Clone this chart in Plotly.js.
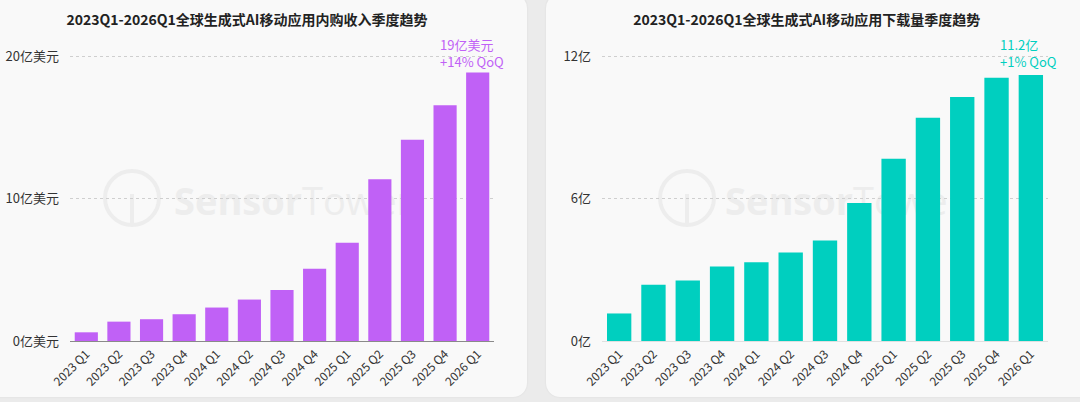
<!DOCTYPE html>
<html>
<head>
<meta charset="utf-8">
<script src="https://cdn.plot.ly/plotly-3.0.1.min.js"></script>
<style>
  html, body { margin:0; padding:0; width:1080px; height:402px; overflow:hidden; background:#ebebeb; }
  .card { position:absolute; background:#f9f9f9; border-radius:14px; box-shadow:0 0 2px rgba(0,0,0,0.08); }
  .plot { position:absolute; top:0; width:540px; height:402px; }
  .wm { position:absolute; font-family:'Open Sans','Noto Sans',sans-serif; font-size:38px; color:#ededed; line-height:1; white-space:nowrap; transform:translateY(-50%); }
  .wm b { font-weight:700; }
</style>
</head>
<body>
<div class="card" style="left:-14px; top:-6px; width:541px; height:403px;"></div>
<div class="card" style="left:546px; top:-6px; width:550px; height:403px;"></div>
<div class="wm" style="left:174px; top:200px;"><b>Sensor</b>Tower</div>
<div class="wm" style="left:725px; top:200px;"><b>Sensor</b>Tower</div>
<div id="left" class="plot" style="left:0px;"></div>
<div id="right" class="plot" style="left:540px;"></div>
<script>
const quarters = ["2023 Q1","2023 Q2","2023 Q3","2023 Q4","2024 Q1","2024 Q2","2024 Q3","2024 Q4","2025 Q1","2025 Q2","2025 Q3","2025 Q4","2026 Q1"];
const revenue = [0.61, 1.36, 1.53, 1.88, 2.35, 2.91, 3.59, 5.07, 6.90, 11.36, 14.13, 16.55, 18.85];
const downloads = [1.16, 2.37, 2.55, 3.14, 3.32, 3.73, 4.24, 5.82, 7.68, 9.41, 10.28, 11.09, 11.21];
const revTicks = [0, 10, 20];
const revTickText = ["0亿美元", "10亿美元", "20亿美元"];
const dlTicks = [0, 6, 12];
const dlTickText = ["0亿", "6亿", "12亿"];
const revTitle = "2023Q1-2026Q1全球生成式AI移动应用内购收入季度趋势";
const dlTitle = "2023Q1-2026Q1全球生成式AI移动应用下载量季度趋势";
const revNote = "19亿美元<br>+14% QoQ";
const dlNote = "11.2亿<br>+1% QoQ";

const FONT = "'Noto Sans CJK SC', 'Noto Sans', sans-serif";

function makeChart(id, opts) {
  const W = 540, H = 402;
  const m = opts.margin;
  const pw = W - m.l - m.r, ph = H - m.t - m.b;
  const toPX = px => (px - m.l) / pw;
  const toPY = py => (H - m.b - py) / ph;
  const wm = opts.wm;
  const layout = {
    width: W, height: H,
    margin: m,
    paper_bgcolor: 'rgba(0,0,0,0)',
    plot_bgcolor: 'rgba(0,0,0,0)',
    font: {family: FONT, color: '#333'},
    title: {
      text: '<b>' + opts.title + '</b>',
      xref: 'container', x: opts.titleX / W, xanchor: 'center',
      yref: 'container', y: 1 - 20 / H, yanchor: 'middle',
      font: {family: FONT, size: 14, color: '#222'}
    },
    bargap: 0.29,
    showlegend: false,
    xaxis: {
      type: 'category',
      automargin: false,
      range: [-0.5, quarters.length - 0.5],
      tickangle: -45,
      tickfont: {size: 12, color: '#333'},
      showgrid: false,
      showline: true,
      linecolor: opts.baseColor,
      linewidth: 1.3,
      ticks: '',
      zeroline: false,
      fixedrange: true
    },
    yaxis: {
      automargin: false,
      range: opts.yRange,
      tickvals: opts.tickvals,
      ticktext: opts.ticktext,
      tickfont: {size: 13, color: '#333'},
      showgrid: true,
      gridcolor: '#cfcfcf',
      griddash: 'dot',
      gridwidth: 1,
      zeroline: false,
      showline: false,
      ticks: '',
      ticklabelstandoff: 10,
      fixedrange: true
    },
    shapes: [{
      type: 'circle', xref: 'paper', yref: 'paper', layer: 'below',
      x0: toPX(wm.cx - wm.r), x1: toPX(wm.cx + wm.r),
      y0: toPY(wm.cy + wm.r), y1: toPY(wm.cy - wm.r),
      line: {color: '#ededed', width: 4}
    }, {
      type: 'line', xref: 'paper', yref: 'paper', layer: 'below',
      x0: toPX(wm.cx), x1: toPX(wm.cx),
      y0: toPY(wm.cy + wm.r), y1: toPY(wm.cy - 4),
      line: {color: '#ededed', width: 4}
    }],
    annotations: [{
      x: quarters[quarters.length - 1],
      y: opts.values[opts.values.length - 1],
      xref: 'x', yref: 'y',
      xanchor: 'center', yanchor: 'bottom', align: 'left',
      xshift: opts.noteShift, yshift: opts.noteYShift,
      showarrow: false,
      text: opts.note,
      font: {family: FONT, size: 13, color: opts.color}
    }]
  };
  const trace = {
    type: 'bar',
    x: quarters,
    y: opts.values,
    marker: {color: opts.color},
    hoverinfo: 'x+y'
  };
  Plotly.newPlot(id, [trace], layout, {staticPlot: true, displayModeBar: false});
}

makeChart('left', {
  title: revTitle, titleX: 247,
  margin: {l: 70, r: 46, t: 42, b: 61, pad: 0},
  yRange: [0, 21],
  tickvals: revTicks, ticktext: revTickText,
  values: revenue, color: '#c061f6', baseColor: '#8a8a8a',
  note: revNote, noteShift: -6, noteYShift: 0,
  wm: {cx: 132, cy: 198, r: 27}
});

makeChart('right', {
  title: dlTitle, titleX: 266.7,
  margin: {l: 62, r: 32, t: 42, b: 61, pad: 0},
  yRange: [0, 12.6],
  tickvals: dlTicks, ticktext: dlTickText,
  values: downloads, color: '#00cfbf', baseColor: '#e0e0e0',
  note: dlNote, noteShift: -2, noteYShift: 2,
  wm: {cx: 147, cy: 198, r: 27}
});
</script>
</body>
</html>
